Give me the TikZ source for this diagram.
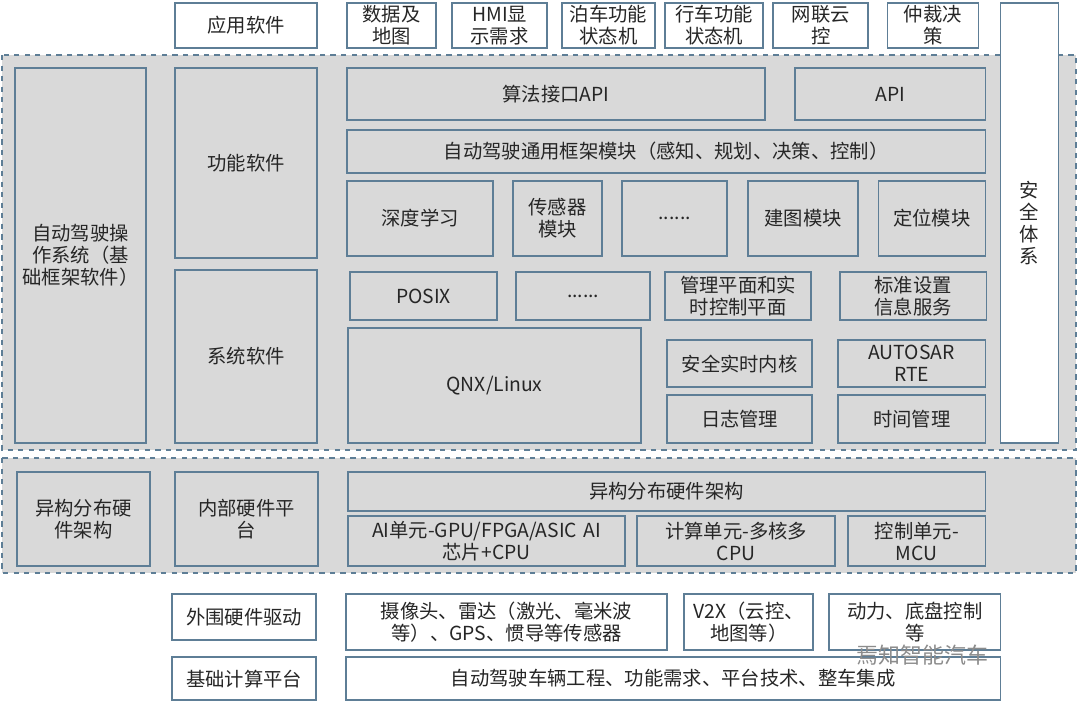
\documentclass[tikz,border=0pt]{standalone}
\usepackage{fontspec}
\setmainfont{Noto Sans CJK SC}
\usetikzlibrary{positioning}
\definecolor{edgeblue}{HTML}{5E7E96}
\definecolor{panel}{HTML}{D9D9D9}
% box from pixel corners: name, x1, y1, x2, y2, text
\newcommand\bx[7][]{%
  \node[box,#1,minimum width={(#5-#3)*0.02cm},minimum height={(#6-#4)*0.02cm},
        text width={(#5-#3)*0.02cm-4pt}] (#2) at ({(#3+#5)/2*0.02},{-(#4+#6)/2*0.02}) {#7};}
\begin{document}
\begin{tikzpicture}[font=\fontsize{11}{12.5}\selectfont,
  box/.style={draw=edgeblue,fill=panel,line width=0.8pt,align=center,inner sep=0pt,outer sep=0pt,text=black!85},
  white/.style={fill=white},
  zone/.style={draw=edgeblue,fill=panel,dashed,line width=0.8pt}]
\useasboundingbox (0,0) rectangle (21.6,-14.06);
% panels
\draw[zone] (0.04,-1.10) rectangle (21.52,-9.00);
\draw[zone] (0.04,-9.16) rectangle (21.52,-11.46);
% application row
\bx[white]{app}{175}{3}{317}{48}{应用软件}
\bx[white]{map}{347}{3}{436}{48}{数据及\\地图}
\bx[white]{hmi}{452}{3}{547}{48}{HMI显\\示需求}
\bx[white]{park}{562}{3}{655}{48}{泊车功能\\状态机}
\bx[white]{drive}{665}{3}{763}{48}{行车功能\\状态机}
\bx[white]{cloud}{773}{3}{868}{48}{网联云\\控}
\bx[white]{arb}{887}{3}{978}{48}{仲裁决\\策}
\bx[white]{safe}{1000}{3}{1058}{443}{安\\全\\体\\系}
% operating system
\bx{os}{15}{68}{146}{443}{自动驾驶操\\作系统（基\\础框架软件）}
\bx{func}{175}{68}{317}{258}{功能软件}
\bx{sys}{175}{270}{317}{443}{系统软件}
\bx{algapi}{347}{68}{765}{120}{算法接口API}
\bx{api}{795}{68}{985}{120}{API}
\bx{frame}{347}{130}{985}{173}{自动驾驶通用框架模块（感知、规划、决策、控制）}
\bx{deep}{347}{181}{493}{256}{深度学习}
\bx{sensor}{513}{181}{602}{256}{传感器\\模块}
\bx{dots1}{622}{181}{727}{256}{......}
\bx{mapping}{748}{181}{858}{256}{建图模块}
\bx{loc}{878}{181}{985}{256}{定位模块}
\bx{posix}{350}{272}{497}{320}{POSIX}
\bx{dots2}{516}{272}{650}{320}{......}
\bx{mgmt}{665}{272}{811}{320}{管理平面和实\\时控制平面}
\bx{std}{840}{272}{986}{320}{标准设置\\信息服务}
\bx{qnx}{348}{328}{641}{443}{QNX/Linux}
\bx{kernel}{667}{340}{812}{387}{安全实时内核}
\bx{rte}{838}{340}{985}{387}{AUTOSAR\\RTE}
\bx{log}{667}{395}{812}{443}{日志管理}
\bx{time}{838}{395}{985}{443}{时间管理}
% hardware
\bx{hetero}{17}{472}{150}{566}{异构分布硬\\件架构}
\bx{inner}{175}{472}{318}{566}{内部硬件平\\台}
\bx{hwarch}{348}{472}{985}{511}{异构分布硬件架构}
\bx{ai}{348}{516}{625}{566}{AI单元-GPU/FPGA/ASIC AI\\芯片+CPU}
\bx{cpu}{637}{516}{835}{566}{计算单元-多核多\\CPU}
\bx{mcu}{848}{516}{985}{566}{控制单元-\\MCU}
% bottom rows
\bx[white]{periph}{172}{594}{316}{640}{外围硬件驱动}
\bx[white]{cam}{346}{594}{667}{650}{摄像头、雷达（激光、毫米波\\等）、GPS、惯导等传感器}
\bx[white]{vtx}{684}{594}{813}{650}{V2X（云控、\\地图等）}
\bx[white]{power}{829}{594}{1000}{650}{动力、底盘控制\\等}
\bx[white]{base}{172}{657}{316}{700}{基础计算平台}
\bx[white]{veh}{346}{657}{1000}{700}{自动驾驶车辆工程、功能需求、平台技术、整车集成}
\node[text=black!45,font=\fontsize{12.5}{14}\selectfont,anchor=west] (mark) at (17.0,-13.1) {焉知智能汽车};
\end{tikzpicture}
\end{document}
